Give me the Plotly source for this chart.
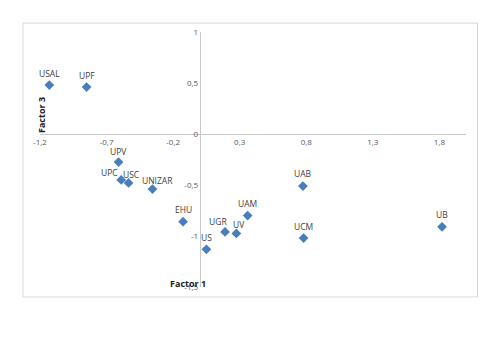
import plotly.graph_objects as go

universities = ["USAL", "UPF", "UPV", "UPC", "USC", "UNIZAR", "EHU", "UGR", "UV", "US", "UAM", "UAB", "UCM", "UB"]
factor1 = [-1.13, -0.85, -0.61, -0.59, -0.535, -0.355, -0.125, 0.19, 0.275, 0.05, 0.36, 0.775, 0.78, 1.82]
factor3 = [0.48, 0.46, -0.275, -0.45, -0.48, -0.54, -0.86, -0.96, -0.975, -1.13, -0.8, -0.51, -1.02, -0.91]

# label offsets in pixels (style only)
label_dx = [0, 0, 0, -12, 3, 5, 0, -7, 3, 0, 0, 0, 0, 0]
label_dy = [12, 12, 11, 7, 8, 9, 12, 10, 9, 12, 12, 13, 12, 12]

x_ticks = [-1.2, -0.7, -0.2, 0.3, 0.8, 1.3, 1.8]
x_tick_text = ["-1,2", "-0,7", "-0,2", "0,3", "0,8", "1,3", "1,8"]
y_ticks = [1, 0.5, 0, -0.5, -1, -1.5]
y_tick_text = ["1", "0,5", "0", "-0,5", "-1", "-1,5"]

x_range = [-1.2, 2.0]
y_range = [-1.5, 1.0]

fig = go.Figure()
fig.add_trace(go.Scatter(
    x=factor1, y=factor3, mode="markers",
    marker=dict(symbol="diamond", size=7.5, color="#4A7EBB"),
    cliponaxis=False, showlegend=False,
))

annotations = []
for name, xv, yv, dx, dy in zip(universities, factor1, factor3, label_dx, label_dy):
    annotations.append(dict(text=name, x=xv, y=yv, xref="x", yref="y", showarrow=False,
                            xanchor="center", yanchor="middle", xshift=dx, yshift=dy,
                            font=dict(family="Open Sans", size=8.5, color="#404040")))

annotations += [
    dict(text="<b>Factor 1</b>", xref="paper", yref="paper", x=(188 - 40) / 425.6, y=(287 - 283) / 255,
         xanchor="center", yanchor="middle",
         showarrow=False, font=dict(family="Open Sans", size=9, color="#222222")),
    dict(text="<b>Factor 3</b>", xref="paper", yref="paper", x=(42 - 40) / 425.6, y=(287 - 115) / 255,
         xanchor="center", yanchor="middle",
         showarrow=False, textangle=-90, font=dict(family="Open Sans", size=9, color="#222222")),
]

axis_color = "#C8C8C8"
fig.update_layout(
    width=500, height=353,
    margin=dict(l=40, r=34.4, t=32, b=66),
    paper_bgcolor="white", plot_bgcolor="white",
    xaxis=dict(range=x_range, tickvals=x_ticks, ticktext=x_tick_text,
               showgrid=False, zeroline=False, showline=True, linecolor=axis_color, linewidth=1,
               anchor="free", position=(0 - y_range[0]) / (y_range[1] - y_range[0]),
               ticks="", tickfont=dict(family="Open Sans", size=8, color="#595959")),
    yaxis=dict(range=y_range, tickvals=y_ticks, ticktext=y_tick_text,
               showgrid=False, zeroline=False, showline=True, linecolor=axis_color, linewidth=1,
               anchor="free", position=(0 - x_range[0]) / (x_range[1] - x_range[0]),
               ticks="", tickfont=dict(family="Open Sans", size=8, color="#595959")),
    shapes=[dict(type="rect", xref="paper", yref="paper", x0=-0.04, x1=1.027, y0=-0.039, y1=1.035,
                 line=dict(color="#D9D9D9", width=1))],
    annotations=annotations,
)

fig.write_html("out.html")
